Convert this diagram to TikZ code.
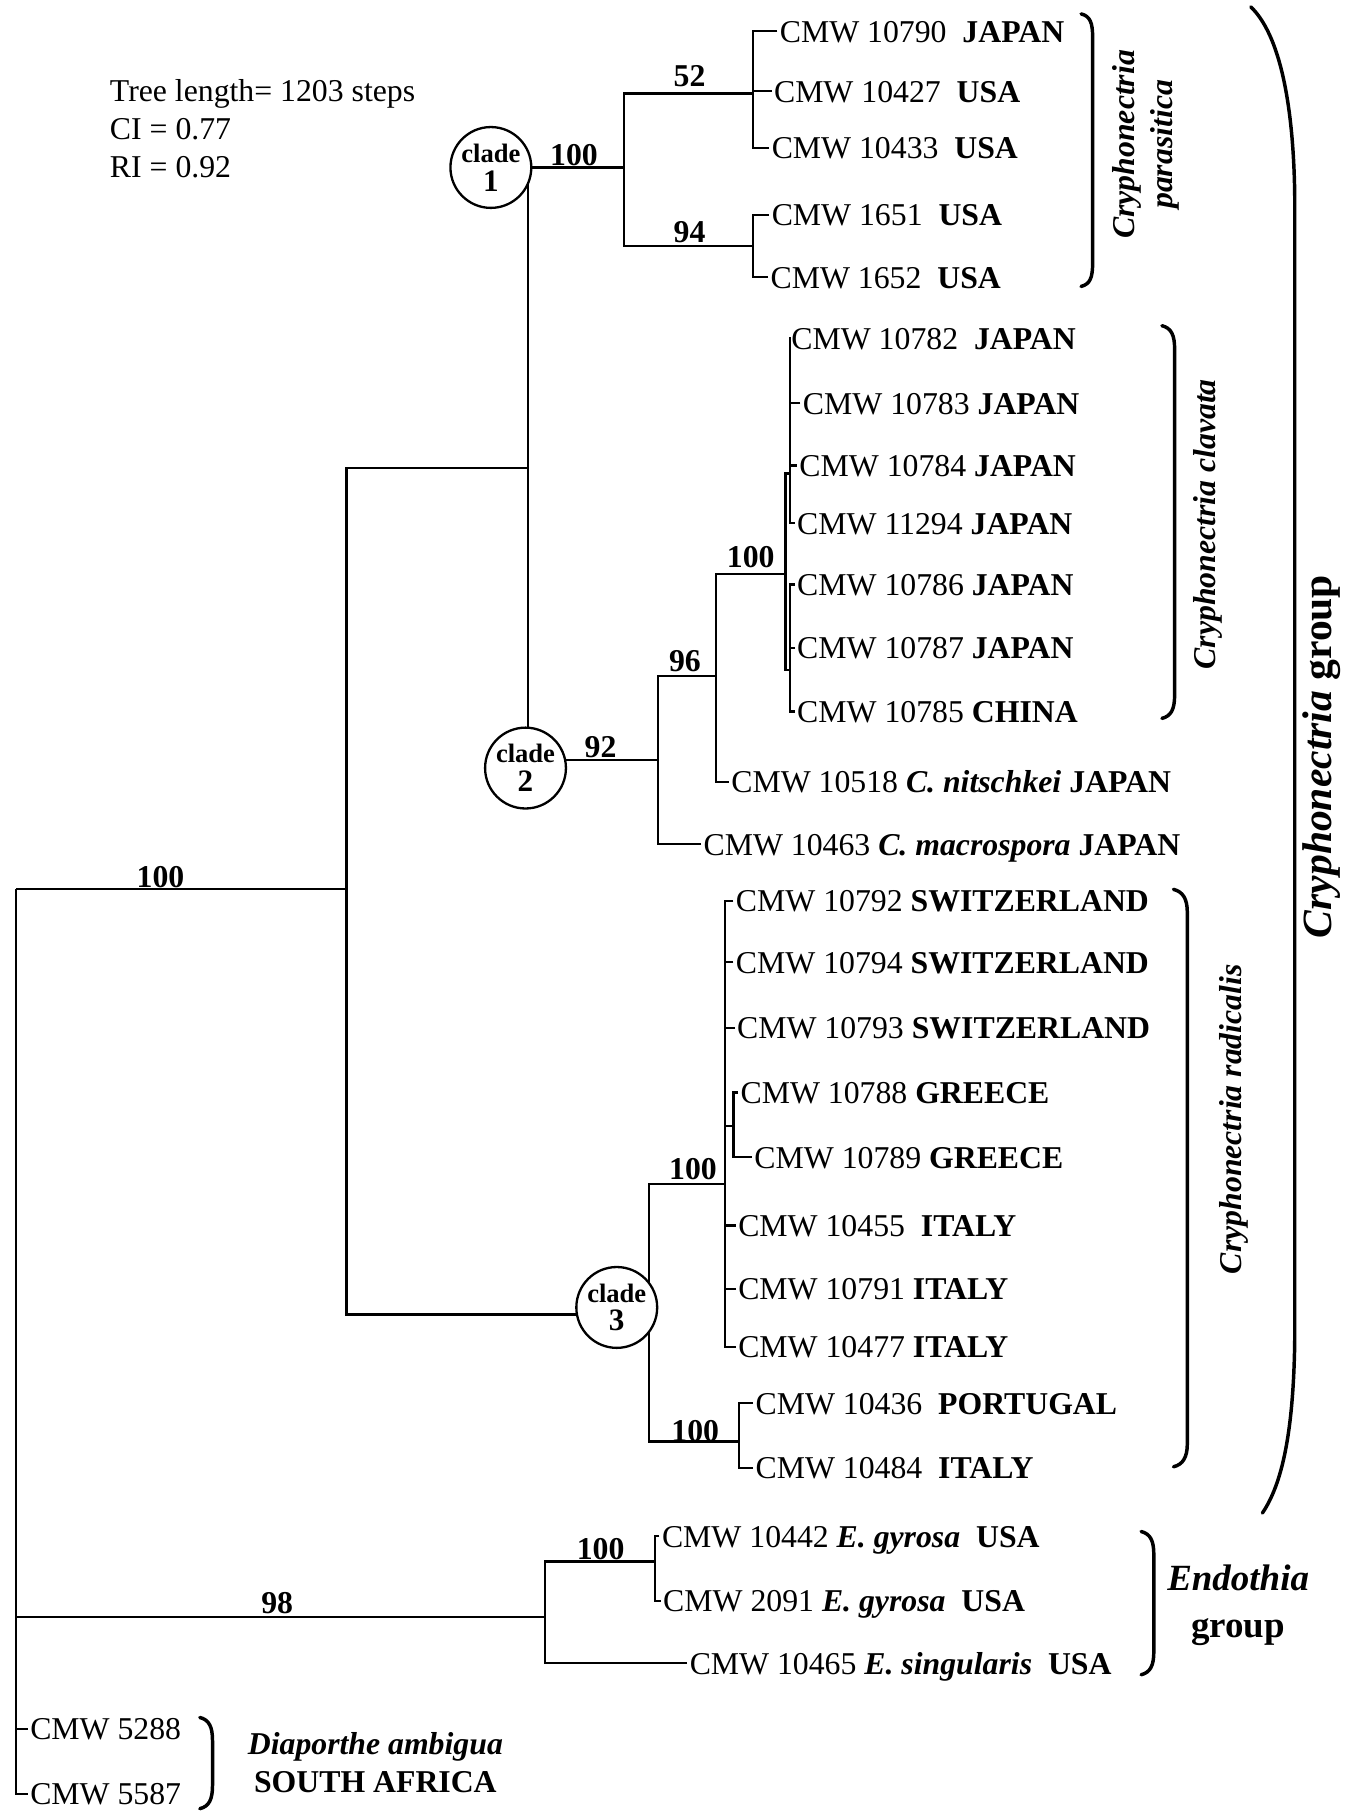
\documentclass[tikz,border=0pt]{standalone}
\usepackage{fontspec}
\setmainfont{Liberation Serif}
\newcommand{\myfs}{\fontsize{27.5}{33}\selectfont}
\begin{document}
\begin{tikzpicture}[x=1pt,y=-1pt,
  br/.style={line width=2pt},
  brk/.style={line width=3pt,line cap=round},
  leaf/.style={anchor=west,inner xsep=2pt,inner ysep=0pt,text height=19pt,text depth=0pt,font=\myfs},
  lab/.style={anchor=base,inner sep=0pt,font=\myfs\bfseries},
  hdr/.style={anchor=base west,inner sep=0pt,font=\myfs},
  clade/.style={circle,draw,line width=2pt,fill=white,minimum size=70pt,inner sep=0pt,align=center,font=\fontsize{23}{25}\selectfont\bfseries},
  grp/.style={rotate=90,font=\myfs\bfseries\itshape,align=center,inner sep=0pt}
]
\useasboundingbox (0,0) rectangle (1173,1568);

% header
\node[hdr] (h1) at (95,88) {Tree length= 1203 steps};
\node[hdr] (h2) at (95,121) {CI = 0.77};
\node[hdr] (h3) at (95,154) {RI = 0.92};

% internal coordinates
\coordinate (rt) at (14,770);
\coordinate (cry) at (300,770);
\coordinate (k12) at (457,405);
\coordinate (c1v) at (457,145);
\coordinate (c2v) at (457,658);
\coordinate (n1) at (540,145);
\coordinate (k52) at (652,81);
\coordinate (k94) at (652,213);
\coordinate (k92) at (570,658);
\coordinate (k96) at (620,585);
\coordinate (k100c) at (680,497);
\coordinate (ca) at (684,410);
\coordinate (cb) at (684,580);
\coordinate (k3) at (562,1138);
\coordinate (k100r) at (628,1025);
\coordinate (kg) at (635,975);
\coordinate (k100p) at (640,1248);
\coordinate (ke) at (472,1400);
\coordinate (kE100) at (567,1352);

% leaves: parasitica
\node[leaf] (P1) at (673,27) {CMW 10790\ \ \textbf{JAPAN}};
\node[leaf] (P2) at (668,79) {CMW 10427\ \ \textbf{USA}};
\node[leaf] (P3) at (666,128) {CMW 10433\ \ \textbf{USA}};
\node[leaf] (P4) at (666,186) {CMW 1651\ \ \textbf{USA}};
\node[leaf] (P5) at (665,240) {CMW 1652\ \ \textbf{USA}};
% clavata
\node[leaf] (C1) at (683,293) {CMW 10782\ \ \textbf{JAPAN}};
\node[leaf] (C2) at (693,349) {CMW 10783 \textbf{JAPAN}};
\node[leaf] (C3) at (690,403) {CMW 10784 \textbf{JAPAN}};
\node[leaf] (C4) at (688,453) {CMW 11294 \textbf{JAPAN}};
\node[leaf] (C5) at (688,506) {CMW 10786 \textbf{JAPAN}};
\node[leaf] (C6) at (688,561) {CMW 10787 \textbf{JAPAN}};
\node[leaf] (C7) at (688,616) {CMW 10785 \textbf{CHINA}};
\node[leaf] (N1) at (631,677) {CMW 10518 \textbf{\textit{C. nitschkei}} \textbf{JAPAN}};
\node[leaf] (M1) at (607,731) {CMW 10463 \textbf{\textit{C. macrospora}} \textbf{JAPAN}};
% radicalis
\node[leaf] (R1) at (635,780) {CMW 10792 \textbf{SWITZERLAND}};
\node[leaf] (R2) at (635,833) {CMW 10794 \textbf{SWITZERLAND}};
\node[leaf] (R3) at (636,890) {CMW 10793 \textbf{SWITZERLAND}};
\node[leaf] (R4) at (639,946) {CMW 10788 \textbf{GREECE}};
\node[leaf] (R5) at (651,1002) {CMW 10789 \textbf{GREECE}};
\node[leaf] (R6) at (637,1061) {CMW 10455\ \ \textbf{ITALY}};
\node[leaf] (R7) at (637,1116) {CMW 10791 \textbf{ITALY}};
\node[leaf] (R8) at (637,1166) {CMW 10477 \textbf{ITALY}};
\node[leaf] (R9) at (652,1215) {CMW 10436\ \ \textbf{PORTUGAL}};
\node[leaf] (R10) at (652,1271) {CMW 10484\ \ \textbf{ITALY}};
% endothia
\node[leaf] (E1) at (571,1330) {CMW 10442 \textbf{\textit{E. gyrosa}}\ \ \textbf{USA}};
\node[leaf] (E2) at (572,1386) {CMW 2091 \textbf{\textit{E. gyrosa}}\ \ \textbf{USA}};
\node[leaf] (E3) at (595,1440) {CMW 10465 \textbf{\textit{E. singularis}}\ \ \textbf{USA}};
% diaporthe
\node[leaf] (D1) at (24,1497) {CMW 5288};
\node[leaf] (D2) at (24,1553) {CMW 5587};

% tree branches
\draw[br] (cry) -- (rt);
\draw[br] (D1.west) -| (rt);
\draw[br] (D2.west) -| (rt);
\draw[br] (ke) -| (rt);
\draw[br] (k12) -| (cry);
\draw[br] (k3) -| (cry);
\draw[br] (n1) -- (c1v) -- (c2v) -- (k92);
\draw[br] (k52) -| (n1);
\draw[br] (k94) -| (n1);
\draw[br] (P1.west) -| (k52);
\draw[br] (P2.west) -| (k52);
\draw[br] (P3.west) -| (k52);
\draw[br] (P4.west) -| (k94);
\draw[br] (P5.west) -| (k94);
\draw[br] (k96) -| (k92);
\draw[br] (M1.west) -| (k92);
\draw[br] (k100c) -| (k96);
\draw[br] (N1.west) -| (k96);
\draw[br] (ca) -| (k100c);
\draw[br] (cb) -| (k100c);
\foreach \l in {C1,C2,C3,C4} \draw[br] (\l.west) -| (ca);
\foreach \l in {C5,C6,C7} \draw[br] (\l.west) -| (cb);
\draw[br] (k100r) -| (k3);
\draw[br] (k100p) -| (k3);
\foreach \l in {R1,R2,R3,R6,R7,R8} \draw[br] (\l.west) -| (k100r);
\draw[br] (kg) -| (k100r);
\draw[br] (R4.west) -| (kg);
\draw[br] (R5.west) -| (kg);
\draw[br] (R9.west) -| (k100p);
\draw[br] (R10.west) -| (k100p);
\draw[br] (kE100) -| (ke);
\draw[br] (E1.west) -| (kE100);
\draw[br] (E2.west) -| (kE100);
\draw[br] (E3.west) -| (ke);

% clade circles
\node[clade] (cl1) at (425,145) {clade\\{\fontsize{27}{25}\selectfont 1}};
\node[clade] (cl2) at (455,665) {clade\\{\fontsize{27}{25}\selectfont 2}};
\node[clade] (cl3) at (534,1132) {clade\\{\fontsize{27}{25}\selectfont 3}};

% bootstrap labels
\node[lab] (b1) at (497,143) {100};
\node[lab] (b2) at (597,75) {52};
\node[lab] (b3) at (597,210) {94};
\node[lab] (b4) at (650,491) {100};
\node[lab] (b5) at (593,581) {96};
\node[lab] (b6) at (520,656) {92};
\node[lab] (b7) at (139,768) {100};
\node[lab] (b8) at (600,1021) {100};
\node[lab] (b9) at (602,1248) {100};
\node[lab] (b10) at (520,1350) {100};
\node[lab] (b11) at (240,1397) {98};

% brackets
\draw[brk] (936,12) .. controls (944,14) and (946,20) .. (946,32) -- (946,228) .. controls (946,240) and (944,246) .. (936,248);
\draw[brk] (1006,282) .. controls (1014,284) and (1017,290) .. (1017,302) -- (1017,602) .. controls (1017,614) and (1014,620) .. (1006,622);
\draw[brk] (1016,770) .. controls (1024,772) and (1028,778) .. (1028,790) -- (1028,1250) .. controls (1028,1262) and (1024,1268) .. (1016,1270);
\draw[brk] (988,1326) .. controls (996,1328) and (999,1334) .. (999,1346) -- (999,1430) .. controls (999,1442) and (996,1448) .. (988,1450);
\draw[brk] (173,1487) .. controls (181,1489) and (184,1495) .. (184,1507) -- (184,1546) .. controls (184,1558) and (181,1564) .. (173,1566);
\draw[brk] (1083,6) .. controls (1108,30) and (1120,90) .. (1121,170) -- (1121,1160) .. controls (1120,1240) and (1110,1285) .. (1093,1310);

% group labels
\node[grp] (gpar) at (992,125) {Cryphonectria\\parasitica};
\node[grp] (gcla) at (1046,454) {Cryphonectria clavata};
\node[grp] (grad) at (1068,969) {Cryphonectria radicalis};
\node[rotate=90,inner sep=0pt,font=\fontsize{36}{40}\selectfont\bfseries] (gcry) at (1144,655) {\textit{Cryphonectria} group};
\node[anchor=base,inner sep=0pt,font=\fontsize{32}{36}\selectfont\bfseries\itshape] (gend1) at (1072,1377) {Endothia};
\node[anchor=base,inner sep=0pt,font=\fontsize{32}{36}\selectfont\bfseries] (gend2) at (1072,1418) {group};
\node[anchor=base,inner sep=0pt,font=\myfs\bfseries\itshape] (gdia1) at (325,1519) {Diaporthe ambigua};
\node[anchor=base,inner sep=0pt,font=\myfs\bfseries] (gdia2) at (325,1552) {SOUTH AFRICA};
\end{tikzpicture}
\end{document}
